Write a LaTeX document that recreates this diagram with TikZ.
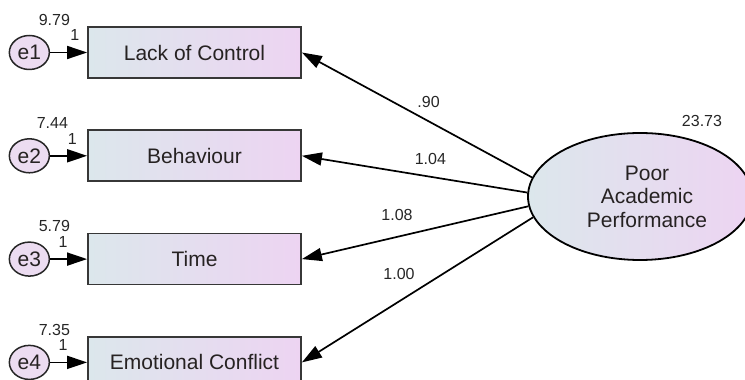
\documentclass[tikz,border=0pt]{standalone}
\usepackage{fontspec}
\setmainfont{Liberation Sans}
\usetikzlibrary{positioning, arrows.meta, shapes.geometric}

\definecolor{boxleft}{RGB}{220,231,236}
\definecolor{boxright}{RGB}{237,212,242}
\definecolor{boxline}{RGB}{55,55,55}
\definecolor{errfill}{RGB}{236,220,241}
\definecolor{txtcol}{RGB}{38,34,34}

\begin{document}
\begin{tikzpicture}[
        x=1pt, y=1pt,
        node distance=50.5pt,
        obsbox/.style={rectangle, draw=boxline, line width=1.8pt, left color=boxleft, right color=boxright,
          minimum width=213pt, minimum height=51pt, inner sep=0pt, font=\fontsize{21}{24}\selectfont, text=txtcol},
        errvar/.style={ellipse, draw=black!85, line width=1.5pt, fill=errfill, minimum width=40pt,
          minimum height=34pt, inner sep=0pt, font=\fontsize{21}{24}\selectfont, text=txtcol},
        latent/.style={ellipse, draw=black, line width=1.8pt, left color=boxleft, right color=boxright,
          minimum width=224pt, minimum height=127pt, inner sep=0pt, align=center,
          font=\fontsize{21}{23.5}\selectfont, text=txtcol},
        lbl/.style={font=\fontsize{16}{18}\selectfont, inner sep=1pt, text=black!85},
        arrow/.style={-{Triangle[length=20pt,width=13pt]}, line width=1.7pt, draw=black}
      ]
        \clip (0,0) rectangle (745,380);

        \node[obsbox] (obs1) at (194.5,327.5) {Lack of Control};
        \node[obsbox, below=of obs1] (obs2) {Behaviour};
        \node[obsbox, below=of obs2] (obs3) {Time};
        \node[obsbox, below=of obs3] (obs4) {Emotional Conflict};

        \node[errvar, left=37pt of obs1] (e1) {e1};
        \node[errvar, left=37pt of obs2] (e2) {e2};
        \node[errvar, left=37pt of obs3] (e3) {e3};
        \node[errvar, left=37pt of obs4] (e4) {e4};

        \node[latent] (pap) at (640,183.5) {\hspace*{14pt}Poor\\\hspace*{14pt}Academic\\\hspace*{14pt}Performance};

        % variances
        \node[lbl] (v1) at ([shift={(25,33)}]e1.center) {9.79};
        \node[lbl] (v2) at ([shift={(23,33)}]e2.center) {7.44};
        \node[lbl] (v3) at ([shift={(25,33)}]e3.center) {5.79};
        \node[lbl] (v4) at ([shift={(25,32)}]e4.center) {7.35};
        \node[lbl] (v5) at ([shift={(62,11)}]pap.north) {23.73};

        \draw[arrow] (e1) -- node[lbl, pos=0.67, above=10pt] {1} (obs1);
        \draw[arrow] (e2) -- node[lbl, pos=0.6, above=9pt] {1} (obs2);
        \draw[arrow] (e3) -- node[lbl, pos=0.35, above=10pt] {1} (obs3);
        \draw[arrow] (e4) -- node[lbl, pos=0.35, above=10pt] {1} (obs4);

        \draw[arrow] (pap.170) -- node[lbl, pos=0.45, above=12pt] {.90} (obs1.east);
        \draw[arrow] (pap.178) -- node[lbl, pos=0.43, above=10pt] {1.04} (obs2.east);
        \draw[arrow] (pap.185) -- node[lbl, pos=0.58, above=14pt] {1.08} (obs3.east);
        \draw[arrow] (pap.191) -- node[lbl, pos=0.58, above=20pt] {1.00} (obs4.east);
      \end{tikzpicture}
\end{document}
